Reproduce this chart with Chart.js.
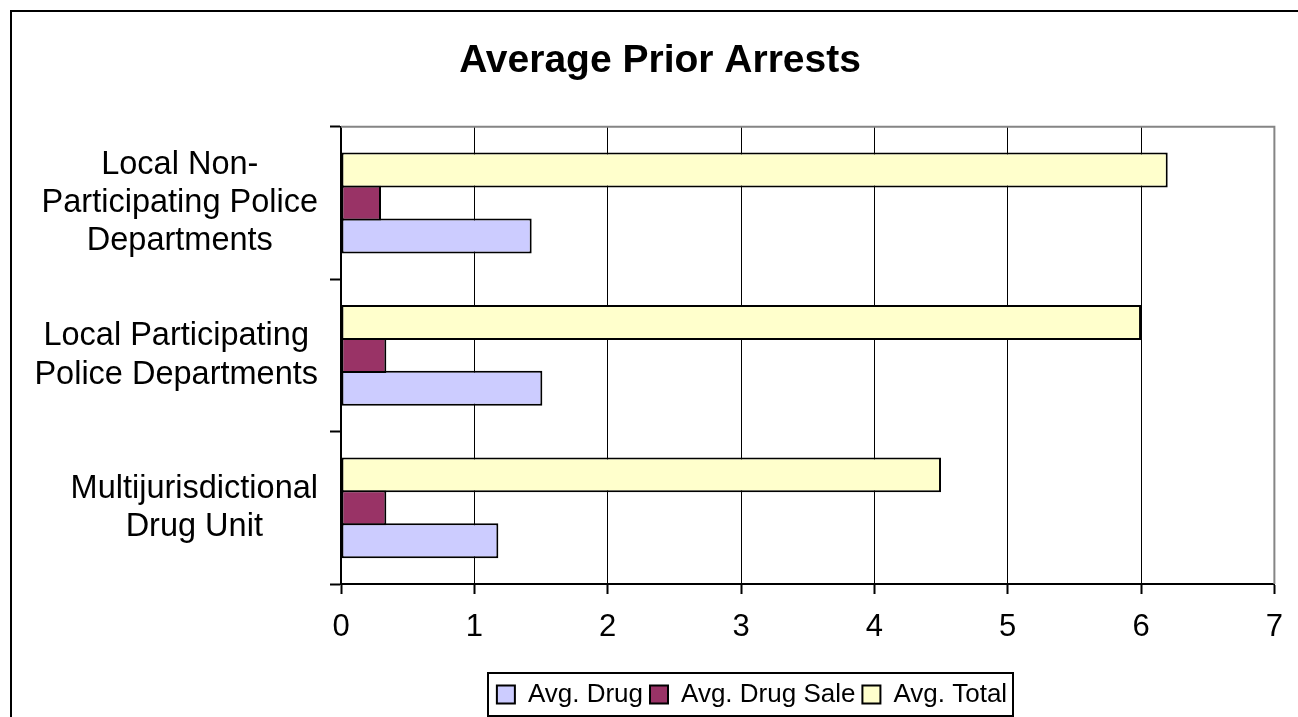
<!DOCTYPE html>
<html>
<head>
<meta charset="utf-8">
<title>Average Prior Arrests</title>
<script src="https://cdn.jsdelivr.net/npm/chart.js@4.4.1/dist/chart.umd.min.js"></script>
<style>
  html, body { margin: 0; padding: 0; background: #ffffff; }
  canvas { display: block; }
</style>
</head>
<body>
<canvas id="chart" width="1298" height="717"></canvas>
<script>
// Agency groups (multi-line labels, top to bottom)
const categories = [
  ['Local Non-', 'Participating Police', 'Departments'],
  ['Local Participating', 'Police Departments'],
  ['Multijurisdictional', 'Drug Unit']
];

// Series names, in legend order
const seriesNames = ['Avg. Drug', 'Avg. Drug Sale', 'Avg. Total'];

// Average number of prior arrests per group
const avgDrug     = [1.43, 1.51, 1.18];
const avgDrugSale = [0.30, 0.34, 0.34];
const avgTotal    = [6.2, 6.0, 4.5];

// Value axis ticks
const valueTicks = [0, 1, 2, 3, 4, 5, 6, 7];

const FONT = '"Liberation Sans", Arial, Helvetica, sans-serif';
Chart.defaults.font.family = FONT;
Chart.defaults.color = '#000000';

const CATEGORY_LABEL_GAP = 12;

const barStyle = {
  borderColor: '#000000',
  borderWidth: 2,
  borderSkipped: false,
  categoryPercentage: 0.648,
  barPercentage: 1.062
};

// Page frame, plot border, boxed legend and right-aligned label blocks
const framePlugin = {
  id: 'frame',
  afterLayout(chart) {
    const t = chart.titleBlock;
    if (t) { t.left += 18.5; t.right += 18.5; }
    const l = chart.legend;
    if (l) { l.left += 110.5; l.right += 110.5; l.top += 0.5; l.bottom += 0.5; }
  },
  beforeDraw(chart) {
    const ctx = chart.ctx;
    ctx.save();
    ctx.fillStyle = '#ffffff';
    ctx.fillRect(0, 0, chart.width, chart.height);

    // each category label is a block set against the axis, its lines centred within it
    const y = chart.scales.y;
    const right = y.right - y.options.grid.tickLength - CATEGORY_LABEL_GAP;
    y.getLabelItems(chart.chartArea).forEach(item => {
      ctx.font = item.font.string;
      const lines = Array.isArray(item.label) ? item.label : [item.label];
      const w = Math.max(...lines.map(s => ctx.measureText(s).width));
      item.options.translation[0] = right - w / 2;
      item.options.textAlign = 'center';
    });
    ctx.restore();
  },
  afterDraw(chart) {
    const ctx = chart.ctx;
    const a = chart.chartArea;
    ctx.save();
    // plot area top and right edges
    ctx.strokeStyle = '#858585';
    ctx.lineWidth = 2;
    ctx.beginPath();
    ctx.moveTo(a.left, a.top);
    ctx.lineTo(a.right, a.top);
    ctx.lineTo(a.right, a.bottom);
    ctx.stroke();
    // outer frame (top and left)
    ctx.strokeStyle = '#000000';
    ctx.lineWidth = 2;
    ctx.beginPath();
    ctx.moveTo(chart.width, 11);
    ctx.lineTo(11, 11);
    ctx.lineTo(11, chart.height);
    ctx.stroke();
    // legend box
    const hb = chart.legend && chart.legend.legendHitBoxes;
    if (hb && hb.length) {
      const x0 = Math.min(...hb.map(h => h.left)) - 9;
      const x1 = Math.max(...hb.map(h => h.left + h.width)) + 6;
      const y0 = hb[0].top - 8.5;
      const y1 = hb[0].top + hb[0].height + 8.5;
      ctx.lineWidth = 2;
      ctx.strokeRect(Math.round(x0), Math.round(y0), Math.round(x1 - x0), Math.round(y1 - y0));
    }
    ctx.restore();
  }
};

new Chart(document.getElementById('chart'), {
  type: 'bar',
  data: {
    labels: categories,
    datasets: [
      Object.assign({ label: seriesNames[2], data: avgTotal,    backgroundColor: '#FFFFCC' }, barStyle),
      Object.assign({ label: seriesNames[1], data: avgDrugSale, backgroundColor: '#993366' }, barStyle),
      Object.assign({ label: seriesNames[0], data: avgDrug,     backgroundColor: '#CCCCFF' }, barStyle)
    ]
  },
  options: {
    indexAxis: 'y',
    responsive: false,
    animation: false,
    devicePixelRatio: 1,
    layout: { padding: { left: 0, right: 15, top: 0, bottom: 0 } },
    scales: {
      x: {
        type: 'linear',
        position: 'bottom',
        min: valueTicks[0],
        max: valueTicks[valueTicks.length - 1],
        afterBuildTicks(scale) {
          scale.ticks = valueTicks.map(v => ({ value: v }));
        },
        afterFit(scale) { scale.height = 90; },
        grid: {
          color: '#000000',
          lineWidth: 1,
          drawTicks: true,
          tickLength: 10,
          tickColor: '#000000',
          tickWidth: 2
        },
        border: { color: '#000000', width: 2 },
        ticks: {
          color: '#000000',
          padding: 15,
          font: { size: 31, lineHeight: 1.2 }
        }
      },
      y: {
        position: 'left',
        afterFit(scale) { scale.width = 341; },
        grid: {
          offset: true,
          drawOnChartArea: false,
          drawTicks: true,
          tickLength: 11,
          tickColor: '#000000',
          tickWidth: 2
        },
        border: { color: '#000000', width: 2 },
        ticks: {
          color: '#000000',
          crossAlign: 'center',
          padding: 11,
          font: { size: 32.5, lineHeight: 1.18 }
        }
      }
    },
    plugins: {
      title: {
        display: true,
        text: 'Average Prior Arrests',
        color: '#000000',
        font: { size: 39, weight: 'bold', lineHeight: 1.2 },
        padding: { top: 38, bottom: 42 }
      },
      legend: {
        display: true,
        position: 'bottom',
        reverse: true,
        labels: {
          color: '#000000',
          boxWidth: 18,
          boxHeight: 18,
          padding: 7,
          font: { size: 26 }
        }
      },
      tooltip: { enabled: false }
    }
  },
  plugins: [framePlugin]
});
</script>
</body>
</html>
